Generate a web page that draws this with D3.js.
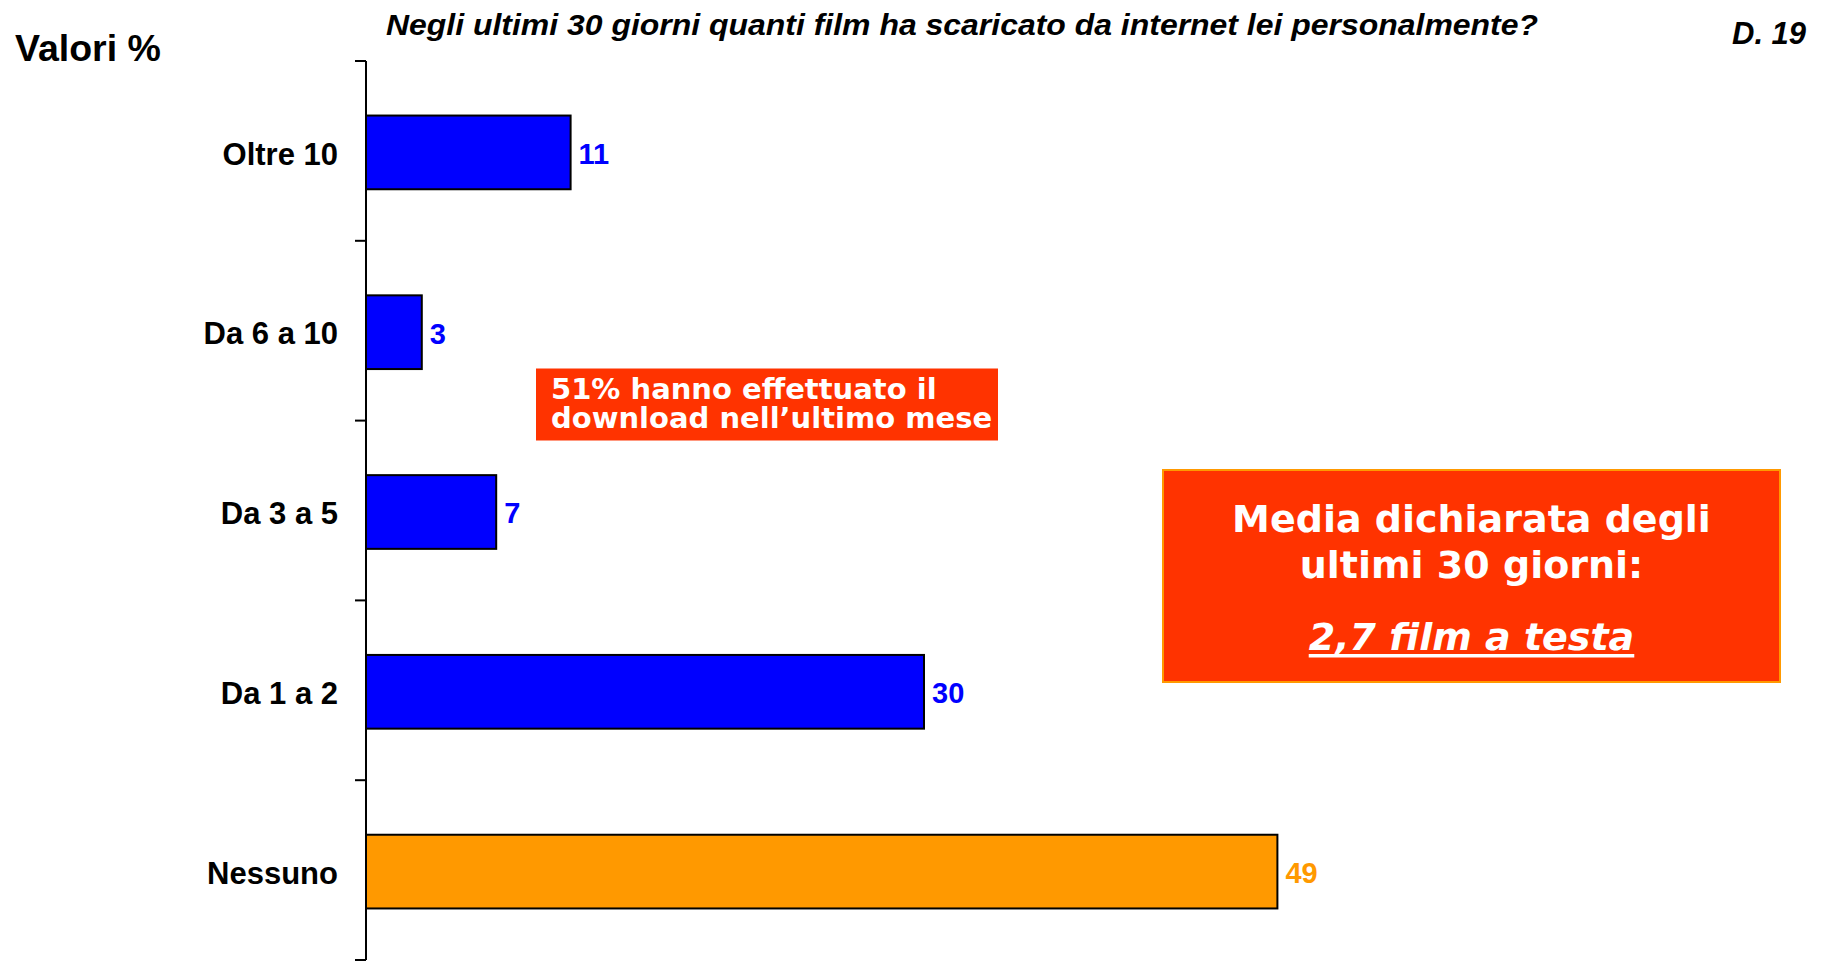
<!DOCTYPE html>
<html>
<head>
<meta charset="utf-8">
<script src="https://cdn.jsdelivr.net/npm/d3@7"></script>
<style>
  html, body { margin: 0; padding: 0; background: #fff; }
  svg { display: block; }
</style>
</head>
<body>
<svg id="chart" width="1823" height="961"></svg>
<script>
// ---- Data ----
const categories = ["Oltre 10", "Da 6 a 10", "Da 3 a 5", "Da 1 a 2", "Nessuno"];
const values = [11, 3, 7, 30, 49];
const barColors = ["#0000FF", "#0000FF", "#0000FF", "#0000FF", "#FF9900"];
const labelColors = ["#0000FF", "#0000FF", "#0000FF", "#0000FF", "#FF9900"];
const titleText = "Negli ultimi 30 giorni quanti film ha scaricato da internet lei personalmente?";
const unitText = "Valori %";
const codeText = "D. 19";
const noteLines = ["51% hanno effettuato il", "download nell\u2019ultimo mese"];
const boxLines = ["Media dichiarata degli", "ultimi 30 giorni:"];
const boxHighlight = "2,7 film a testa";

// ---- Layout ----
const svg = d3.select("#chart");
const axisX = 366;
const x = d3.scaleLinear().domain([0, 50]).range([axisX, axisX + 930]);
const y = d3.scaleBand().domain(categories).range([61, 960]).padding(0);
const barH = y.bandwidth() * 0.41;
const off = 1.5;
const arial = "Arial, 'Liberation Sans', Helvetica, sans-serif";
const verd = "'DejaVu Sans', Verdana, sans-serif";

// Title texts
svg.append("text").attr("x", 15).attr("y", 61)
  .attr("font-family", arial).attr("font-weight", "bold").attr("font-size", 37.5)
  .attr("fill", "#000").text(unitText);
svg.append("text").attr("x", 386).attr("y", 35)
  .attr("font-family", arial).attr("font-weight", "bold").attr("font-style", "italic")
  .attr("font-size", 30).attr("textLength", 1152).attr("lengthAdjust", "spacingAndGlyphs")
  .attr("fill", "#000").text(titleText);
svg.append("text").attr("x", 1732).attr("y", 44)
  .attr("font-family", arial).attr("font-weight", "bold").attr("font-style", "italic")
  .attr("font-size", 31).attr("fill", "#000").text(codeText);

// Bars
svg.append("g").selectAll("rect").data(categories).join("rect")
  .attr("x", x(0))
  .attr("y", d => y(d) + (y.bandwidth() - barH) / 2 + off)
  .attr("width", (d, i) => x(values[i]) - x(0))
  .attr("height", barH)
  .attr("fill", (d, i) => barColors[i])
  .attr("stroke", "#000").attr("stroke-width", 2);

// Value labels
svg.append("g").selectAll("text").data(categories).join("text")
  .attr("x", (d, i) => x(values[i]) + 8)
  .attr("y", d => y(d) + y.bandwidth() / 2 + off + 1)
  .attr("dy", "0.36em")
  .attr("font-family", arial).attr("font-weight", "bold").attr("font-size", 29)
  .attr("fill", (d, i) => labelColors[i])
  .text((d, i) => values[i]);

// Category labels
svg.append("g").selectAll("text").data(categories).join("text")
  .attr("x", 338)
  .attr("y", d => y(d) + y.bandwidth() / 2 + off + 1)
  .attr("dy", "0.36em")
  .attr("text-anchor", "end")
  .attr("font-family", arial).attr("font-weight", "bold").attr("font-size", 31)
  .attr("fill", "#000").text(d => d);

// Axis line and ticks at band boundaries
const boundaries = categories.map(c => y(c)).concat([y.range()[1]]);
svg.append("line").attr("x1", axisX).attr("x2", axisX)
  .attr("y1", y.range()[0]).attr("y2", y.range()[1])
  .attr("stroke", "#000").attr("stroke-width", 2);
svg.append("g").selectAll("line").data(boundaries).join("line")
  .attr("x1", axisX - 11).attr("x2", axisX)
  .attr("y1", d => d).attr("y2", d => d)
  .attr("stroke", "#000").attr("stroke-width", 2);

// Small note box
svg.append("rect").attr("x", 536).attr("y", 368.5).attr("width", 462).attr("height", 72)
  .attr("fill", "#FF3300");
svg.append("g").selectAll("text").data(noteLines).join("text")
  .attr("x", 551).attr("y", (d, i) => 399 + i * 28.5)
  .attr("font-family", verd).attr("font-weight", "bold").attr("font-size", 29)
  .attr("fill", "#fff").text(d => d);

// Big box
const bx = 1163, bw = 617, by = 470, bh = 212;
svg.append("rect").attr("x", bx).attr("y", by).attr("width", bw).attr("height", bh)
  .attr("fill", "#FF3300").attr("stroke", "#FF9900").attr("stroke-width", 2);
svg.append("g").selectAll("text").data(boxLines).join("text")
  .attr("x", bx + bw / 2).attr("y", (d, i) => 532 + i * 46)
  .attr("text-anchor", "middle")
  .attr("font-family", verd).attr("font-weight", "bold").attr("font-size", 38)
  .attr("fill", "#fff").text(d => d);
const hl = svg.append("text").attr("x", bx + bw / 2).attr("y", 650)
  .attr("text-anchor", "middle")
  .attr("font-family", verd).attr("font-weight", "bold").attr("font-style", "italic")
  .attr("font-size", 38).attr("fill", "#fff").text(boxHighlight);
const bb = hl.node().getBBox();
svg.append("rect").attr("x", bb.x).attr("y", 654).attr("width", bb.width).attr("height", 3.5)
  .attr("fill", "#fff");
</script>
</body>
</html>
